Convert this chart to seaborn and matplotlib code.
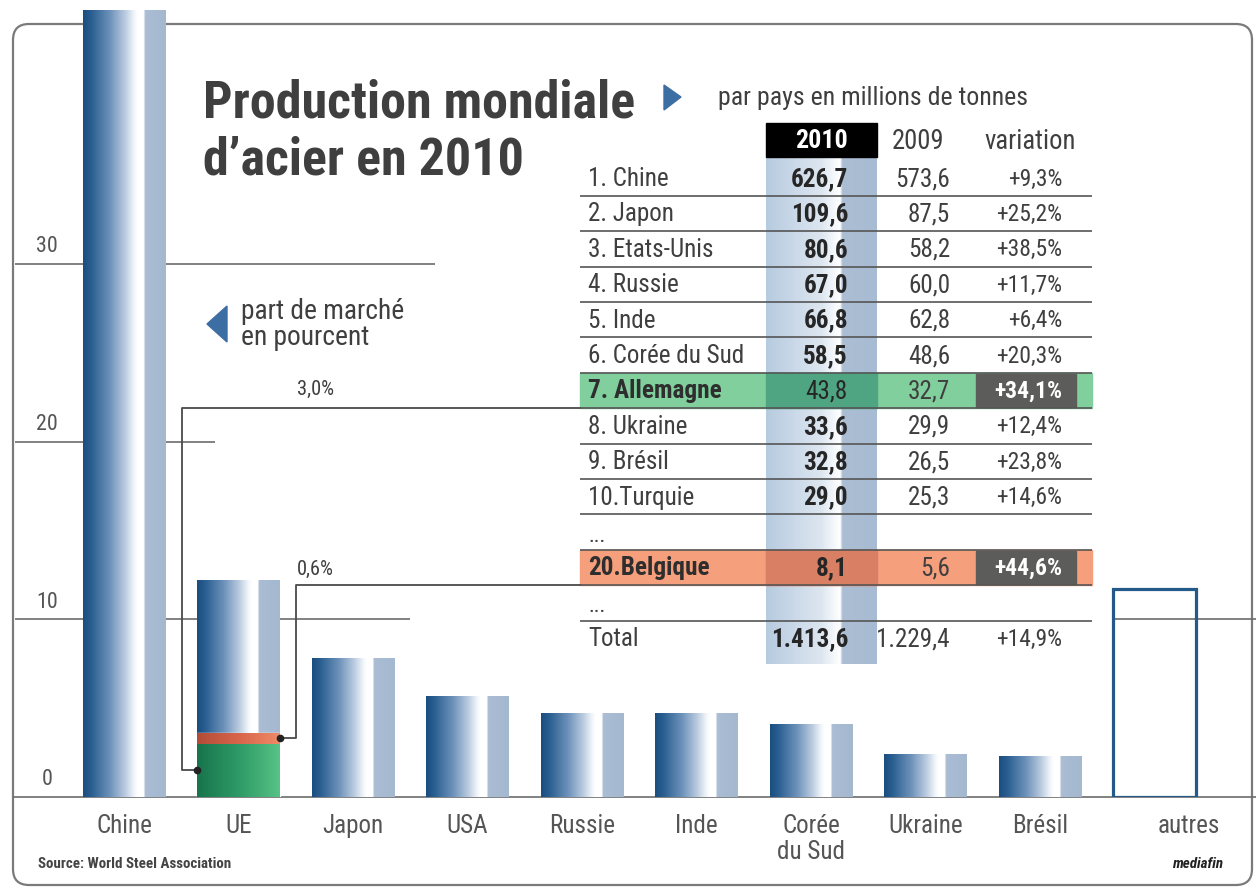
import numpy as np
import pandas as pd
import matplotlib
matplotlib.use("Agg")
import matplotlib.pyplot as plt
import seaborn as sns
from matplotlib import font_manager
from matplotlib.colors import LinearSegmentedColormap
from matplotlib.patches import FancyBboxPatch, Rectangle, Polygon

# ---------------- data ----------------
pays = ["Chine", "UE", "Japon", "USA", "Russie", "Inde", "Corée\ndu Sud", "Ukraine", "Brésil", "autres"]
part_marche = [44.3, 12.2, 7.8, 5.7, 4.7, 4.7, 4.1, 2.4, 2.3, 11.7]
part_allemagne = 3.0
part_belgique = 0.6
graduations = [0, 10, 20, 30]

rangs = ["1. Chine", "2. Japon", "3. Etats-Unis", "4. Russie", "5. Inde", "6. Corée du Sud",
         "7. Allemagne", "8. Ukraine", "9. Brésil", "10.Turquie", "...", "20.Belgique", "...", "Total"]
prod_2010 = [626.7, 109.6, 80.6, 67.0, 66.8, 58.5, 43.8, 33.6, 32.8, 29.0, None, 8.1, None, 1413.6]
prod_2009 = [573.6, 87.5, 58.2, 60.0, 62.8, 48.6, 32.7, 29.9, 26.5, 25.3, None, 5.6, None, 1229.4]
variation = [9.3, 25.2, 38.5, 11.7, 6.4, 20.3, 34.1, 12.4, 23.8, 14.6, None, 44.6, None, 14.9]
colonnes = ["2010", "2009", "variation"]

titre = ["Production mondiale", "d\u2019acier en 2010"]
sous_titre = "par pays en millions de tonnes"
legende_axe = ["part de marché", "en pourcent"]
source = "Source: World Steel Association"
signature = "mediafin"

# ---------------- fonts ----------------
sns.set_style("white")
entries = font_manager.fontManager.ttflist
names = {f.name for f in entries}
FONT = None
STRETCH = "normal"
for cand in ["Roboto Condensed", "Noto Sans Condensed", "Open Sans Condensed", "Liberation Sans Narrow",
             "Ubuntu Condensed", "DejaVu Sans Condensed", "Fira Sans Condensed"]:
    if cand in names:
        FONT = cand
        break
if FONT is None:
    for fam in ["Roboto", "Noto Sans", "Open Sans", "DejaVu Sans", "Liberation Sans"]:
        if any(f.name == fam and str(f.stretch) in ("condensed", "semi-condensed", "extra-condensed") for f in entries):
            FONT = fam
            STRETCH = "condensed"
            break
if FONT is None:
    FONT = "Roboto" if "Roboto" in names else "DejaVu Sans"
plt.rcParams["font.family"] = [FONT, "DejaVu Sans"]
plt.rcParams["font.stretch"] = STRETCH

W, H = 1256, 895
fig = plt.figure(figsize=(W / 100, H / 100), dpi=100)
fig.patch.set_facecolor("white")
renderer = fig.canvas.get_renderer()


def text_width(s, size, weight="normal"):
    t = fig.text(0, 0, s, fontsize=size, weight=weight)
    w = t.get_window_extent(renderer).width
    t.remove()
    return w


K = min(1.15, 157 / text_width("6. Corée du Sud", 16))
KB = min(1.15, 432 / text_width("Production mondiale", 33, "bold"))

TXT = "#3f3f3f"
BLUE = "#245a89"

# ---------------- axes ----------------
BASE_Y = 798
FIRST_X = 124
PX_CAT = 114.5
PX_PCT = 17.77

bg = fig.add_axes([0, 0, 1, 1], zorder=0)
bg.set_xlim(0, W)
bg.set_ylim(H, 0)
bg.axis("off")

ax = fig.add_axes([0, (H - BASE_Y) / H, 1, BASE_Y / H], zorder=2)
ax.patch.set_alpha(0)

fg = fig.add_axes([0, 0, 1, 1], zorder=3)
fg.set_xlim(0, W)
fg.set_ylim(H, 0)
fg.axis("off")
fg.patch.set_alpha(0)


def set_limits():
    ax.set_xlim(-FIRST_X / PX_CAT, (W - FIRST_X) / PX_CAT)
    ax.set_ylim(0, BASE_Y / PX_PCT)


def xpx(x):
    return ax.transData.transform((x, 0))[0]


def ypx(y):
    return H - ax.transData.transform((0, y))[1]


def hgrad(axis, x0, x1, y0, y1, stops, z, clip=None):
    cmap = LinearSegmentedColormap.from_list("g", stops)
    arr = np.linspace(0, 1, 400)[None, :]
    im = axis.imshow(arr, cmap=cmap, extent=(x0, x1, y0, y1), aspect="auto",
                     zorder=z, interpolation="bilinear", origin="lower")
    if clip is not None:
        im.set_clip_path(clip)
    return im


BAR_STOPS = [(0.0, "#1a4e7f"), (0.10, "#2a5f91"), (0.33, "#6f93bb"), (0.52, "#bfcfe2"),
             (0.62, "#f2f6fa"), (0.66, "#ffffff"), (0.735, "#ffffff"), (0.75, "#aabdd4"), (1.0, "#a4b8d0")]

# frame
frame = FancyBboxPatch((13, 25), 1239, 861, boxstyle="round,pad=0,rounding_size=16",
                       fc="white", ec="#7a7a7a", lw=1.6, zorder=0.5)
bg.add_patch(frame)

# ---------------- bars ----------------
df = pd.DataFrame({"pays": pays, "part": part_marche})
sns.barplot(data=df, x="pays", y="part", order=pays, color=BLUE, width=0.72,
            saturation=1, ax=ax, linewidth=0)
set_limits()
bars = list(ax.patches)
for i, p in enumerate(bars):
    if pays[i] == "autres":
        p.set_facecolor("none")
        p.set_edgecolor(BLUE)
        p.set_linewidth(2.3)
        continue
    x0, w, h = p.get_x(), p.get_width(), p.get_height()
    hgrad(ax, x0, x0 + w, 0, h, BAR_STOPS, 3, clip=p)

# UE : Allemagne + Belgique
ue = pays.index("UE")
g = ax.bar(ue, part_allemagne, width=0.72, color="#2f9a66", zorder=4)[0]
hgrad(ax, g.get_x(), g.get_x() + g.get_width(), 0, part_allemagne,
      [(0, "#17744c"), (0.5, "#2e9a66"), (1, "#57c386")], 4.1, clip=g)
r = ax.bar(ue, part_belgique, bottom=part_allemagne, width=0.72, color="#d9674b", zorder=4)[0]
hgrad(ax, r.get_x(), r.get_x() + r.get_width(), part_allemagne, part_allemagne + part_belgique,
      [(0, "#b24c37"), (0.5, "#d8654a"), (1, "#ef8a67")], 4.1, clip=r)
set_limits()
ax.axis("off")

# ---------------- grid + y labels ----------------
GRID = "#6c6c6c"
autres_left = xpx(bars[pays.index("autres")].get_x())
grid_segments = {30: [(15, 435)], 20: [(15, 215)], 10: [(15, 410), (autres_left, 1256)], 0: [(13, 1256)]}
for v in graduations:
    yy = ypx(v)
    for a, b in grid_segments[v]:
        bg.plot([a, b], [yy, yy], color=GRID, lw=1.2, zorder=1, solid_capstyle="butt")
    bg.text(47, yy - 18, f"{v}", ha="center", va="center", fontsize=14 * K, color="#555555", zorder=2)

# x labels
for i, lab in enumerate(pays):
    x = xpx(i) + (34 if lab == "autres" else 0)
    bg.text(x, 814, lab, ha="center", va="top", fontsize=16 * K, color="#555555",
            linespacing=1.1, zorder=2)

# ---------------- titles ----------------
bg.text(203, 117, titre[0], fontsize=33 * KB, weight="bold", color=TXT, va="baseline", zorder=2)
bg.text(203, 174, titre[1], fontsize=33 * KB, weight="bold", color=TXT, va="baseline", zorder=2)
bg.add_patch(Polygon([(664, 86), (681, 98), (664, 111)], closed=True, color="#3d6ea3", zorder=2))
bg.text(718, 98, sous_titre, fontsize=16.5 * K, color=TXT, va="center", zorder=2)
bg.add_patch(Polygon([(227, 307), (207, 325), (227, 343)], closed=True, color="#3d6ea3", zorder=2))
bg.text(241, 311, legende_axe[0], fontsize=17.5 * K, color=TXT, va="center", zorder=2)
bg.text(241, 337, legende_axe[1], fontsize=17.5 * K, color=TXT, va="center", zorder=2)

# ---------------- table ----------------
TL, TR = 580, 1092
ROW0, RH = 179, 35.4
C10_L, C10_R = 766, 877
hgrad(bg, C10_L, C10_R, 158, 665,
      [(0, "#b7cbe0"), (0.5, "#dde6f0"), (0.62, "#f6f9fc"), (0.67, "#ffffff"),
       (0.69, "#abbed4"), (1, "#a7bbd2")], 1)
bg.add_patch(Rectangle((C10_L, 124), C10_R - C10_L, 34, color="black", zorder=2))
bg.text((C10_L + C10_R) / 2, 141, colonnes[0], color="white", weight="bold", fontsize=16.5 * KB,
        ha="center", va="center", zorder=4)
bg.text(918, 141, colonnes[1], color=TXT, fontsize=17 * K, ha="center", va="center", zorder=4)
bg.text(1030, 141, colonnes[2], color=TXT, fontsize=17 * K, ha="center", va="center", zorder=4)

highlight = {"7. Allemagne": ("#80cf9d", "#4fa582"), "20.Belgique": ("#f59f7c", "#d98064")}


def fr(v):
    s = f"{v:,.1f}"
    return s.replace(",", "X").replace(".", ",").replace("X", ".")


for i, lab in enumerate(rangs):
    yc = ROW0 + RH * i
    hl = lab in highlight
    if hl:
        light, dark = highlight[lab]
        bg.add_patch(Rectangle((TL, yc - RH / 2), TR - TL, RH, color=light, zorder=2))
        bg.add_patch(Rectangle((C10_L, yc - RH / 2), C10_R - C10_L, RH, color=dark, zorder=2.1))
        bg.add_patch(Rectangle((976, yc - RH / 2 + 1.5), 100, RH - 3, color="#5c5d5a", zorder=2.2))
    if lab == "...":
        bg.text(588, yc + 3, lab, color=TXT, fontsize=14 * K, va="center", zorder=4)
        continue
    bg.text(588, yc, lab, color="#2e2e2e" if hl else TXT, fontsize=16 * (KB if hl else K),
            weight="bold" if hl else "normal", va="center", zorder=4)
    bold10 = lab != "7. Allemagne"
    bg.text(848, yc, fr(prod_2010[i]), color="#262626", fontsize=16 * (KB if bold10 else K),
            weight="bold" if bold10 else "normal", ha="right", va="center", zorder=4)
    bg.text(950, yc, fr(prod_2009[i]), color=TXT, fontsize=16 * K, ha="right", va="center", zorder=4)
    bg.text(1062, yc, "+" + fr(variation[i]) + "%", color="white" if hl else TXT,
            fontsize=15 * (KB if hl else K), weight="bold" if hl else "normal",
            ha="right", va="center", zorder=4)

for i in range(len(rangs) - 1):
    yy = ROW0 + RH * (i + 0.5)
    bg.plot([TL, TR], [yy, yy], color="#555555", lw=1.2, zorder=3, solid_capstyle="butt")

# ---------------- leader lines ----------------
LEAD = "#4a4a4a"
i_all = rangs.index("7. Allemagne")
i_bel = rangs.index("20.Belgique")
y_all = ROW0 + RH * (i_all + 0.5)
y_bel = ROW0 + RH * (i_bel + 0.5)
ue_left = xpx(bars[ue].get_x())
ue_right = xpx(bars[ue].get_x() + bars[ue].get_width())
yd_all = ypx(part_allemagne / 2)
yd_bel = ypx(part_allemagne + part_belgique / 2)
fg.plot([TL, 182, 182, ue_left], [y_all, y_all, yd_all, yd_all], color=LEAD, lw=1.3)
fg.plot([ue_left], [yd_all], "o", color="#222222", ms=4.5)
fg.plot([TL, 296, 296, ue_right], [y_bel, y_bel, yd_bel, yd_bel], color=LEAD, lw=1.3)
fg.plot([ue_right], [yd_bel], "o", color="#222222", ms=4.5)
fg.text(315, y_all - 20, fr(part_allemagne) + "%", fontsize=13 * K, color=TXT, ha="center", va="center")
fg.text(315, y_bel - 17, fr(part_belgique) + "%", fontsize=13 * K, color=TXT, ha="center", va="center")

# ---------------- footer ----------------
bg.text(38, 864, source, fontsize=9.5 * KB, weight="bold", color="#444444", va="center", zorder=2)
bg.text(1223, 864, signature, fontsize=9.5 * KB, weight="bold", style="italic", color="#222222",
        ha="right", va="center", zorder=2)

fig.savefig("out.png", dpi=100, facecolor="white")
